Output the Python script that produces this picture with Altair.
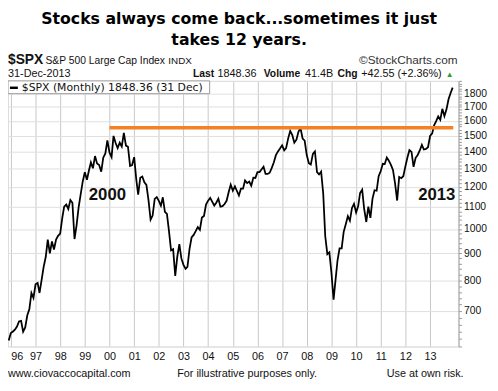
import altair as alt
import pandas as pd

# Monthly closes of $SPX, Dec 1995 .. Dec 2013 (plotted at month start)
spx_1995 = [615.93]
spx_1996 = [636.02, 640.43, 645.50, 654.17, 669.12, 670.63, 639.95, 651.99, 687.31, 705.27, 757.02, 740.74]
spx_1997 = [786.16, 790.82, 757.12, 801.34, 848.28, 885.14, 954.31, 899.47, 947.28, 914.62, 955.40, 970.43]
spx_1998 = [980.28, 1049.34, 1101.75, 1111.75, 1090.82, 1133.84, 1120.67, 957.28, 1017.01, 1098.67, 1163.63, 1229.23]
spx_1999 = [1279.64, 1238.33, 1286.37, 1335.18, 1301.84, 1372.71, 1328.72, 1320.41, 1282.71, 1362.93, 1388.91, 1469.25]
spx_2000 = [1394.46, 1366.42, 1498.58, 1452.43, 1420.60, 1454.60, 1430.83, 1517.68, 1436.51, 1429.40, 1314.95, 1320.28]
spx_2001 = [1366.01, 1239.94, 1160.33, 1249.46, 1255.82, 1224.38, 1211.23, 1133.58, 1040.94, 1059.78, 1139.45, 1148.08]
spx_2002 = [1130.20, 1106.73, 1147.39, 1076.92, 1067.14, 989.82, 911.62, 916.07, 815.28, 885.76, 936.31, 879.82]
spx_2003 = [855.70, 841.15, 848.18, 916.92, 963.59, 974.50, 990.31, 1008.01, 995.97, 1050.71, 1058.20, 1111.92]
spx_2004 = [1131.13, 1144.94, 1126.21, 1107.30, 1120.68, 1140.84, 1101.72, 1104.24, 1114.58, 1130.20, 1173.82, 1211.92]
spx_2005 = [1181.27, 1203.60, 1180.59, 1156.85, 1191.50, 1191.33, 1234.18, 1220.33, 1228.81, 1207.01, 1249.48, 1248.29]
spx_2006 = [1280.08, 1280.66, 1294.87, 1310.61, 1270.09, 1270.20, 1276.66, 1303.82, 1335.85, 1377.94, 1400.63, 1418.30]
spx_2007 = [1438.24, 1406.82, 1420.86, 1482.37, 1530.62, 1503.35, 1455.27, 1473.99, 1526.75, 1549.38, 1481.14, 1468.36]
spx_2008 = [1378.55, 1330.63, 1322.70, 1385.59, 1400.38, 1280.00, 1267.38, 1282.83, 1166.36, 968.75, 896.24, 903.25]
spx_2009 = [825.88, 735.09, 797.87, 872.81, 919.14, 919.32, 987.48, 1020.62, 1057.08, 1036.19, 1095.63, 1115.10]
spx_2010 = [1073.87, 1104.49, 1169.43, 1186.69, 1089.41, 1030.71, 1101.60, 1049.33, 1141.20, 1183.26, 1180.55, 1257.64]
spx_2011 = [1286.12, 1327.22, 1325.83, 1363.61, 1345.20, 1320.64, 1292.28, 1218.89, 1131.42, 1253.30, 1246.96, 1257.60]
spx_2012 = [1312.41, 1365.68, 1408.47, 1397.91, 1310.33, 1362.16, 1379.32, 1406.58, 1440.67, 1412.16, 1416.18, 1426.19]
spx_2013 = [1498.11, 1514.68, 1569.19, 1597.57, 1630.74, 1606.28, 1685.73, 1632.97, 1681.55, 1756.54, 1805.81, 1848.36]

year_labels = ["96", "97", "98", "99", "00", "01", "02", "03", "04", "05", "06", "07", "08", "09", "10", "11", "12", "13"]
y_tick_values = [600, 620, 640, 660, 680, 700, 720, 740, 760, 780, 800, 820, 840, 860, 880, 900, 920, 940, 960, 980,
                 1000, 1020, 1040, 1060, 1080, 1100, 1120, 1140, 1160, 1180, 1200, 1220, 1240, 1260, 1280, 1300,
                 1320, 1340, 1360, 1380, 1400, 1420, 1440, 1460, 1480, 1500, 1520, 1540, 1560, 1580, 1600, 1620,
                 1640, 1660, 1680, 1700, 1720, 1740, 1760, 1780, 1800, 1820, 1840, 1860, 1880, 1900]

resistance_level = 1553
resistance_start = "2000-01-01"
resistance_end = "2013-12-10"

annot_labels = ["2000", "2013"]
annot_dates = ["1999-12-01", "2013-04-10"]
annot_values = [1160, 1160]

all_vals = (spx_1995 + spx_1996 + spx_1997 + spx_1998 + spx_1999 + spx_2000 + spx_2001 + spx_2002 +
            spx_2003 + spx_2004 + spx_2005 + spx_2006 + spx_2007 + spx_2008 + spx_2009 + spx_2010 +
            spx_2011 + spx_2012 + spx_2013)
dates = pd.date_range("1995-12-01", periods=len(all_vals), freq="MS").strftime("%Y-%m-%d")
df = pd.DataFrame({"date": dates, "close": all_vals})

W, H = 458, 270
ARIAL = "Liberation Sans"

x_scale = alt.Scale(type="utc", domain=[alt.DateTime(year=1995, month=11, date=20, utc=True),
                                        alt.DateTime(year=2014, month=2, date=26, utc=True)])
y_scale = alt.Scale(type="log", domain=[600, 1903], nice=False)

x_axis = alt.Axis(values=[alt.DateTime(year=1996 + i, month=1, date=1, utc=True) for i in range(len(year_labels))],
                  format="%y", title=None, grid=True, gridColor="#c8c8c8", tickSize=0, domain=False,
                  labelPadding=4, labelFont=ARIAL, labelFontSize=11, labelColor="#111",
                  labelFlush=3, labelOverlap=False)
y_axis = alt.Axis(orient="right", values=y_tick_values, title=None,
                  labelExpr="(datum.value % 100 === 0 && datum.value >= 700 && datum.value <= 1800) ? format(datum.value, 'd') : ''",
                  labelOverlap=False, labelBound=False, labelFont=ARIAL, labelFontSize=10.5, labelColor="#111",
                  grid=True, gridColor="#dedede",
                  gridOpacity={"condition": {"test": "datum.value % 100 === 0", "value": 1}, "value": 0},
                  tickSize=3, tickColor="#999", labelPadding=2, domainColor="#a0a0a0")

line = alt.Chart(df).mark_line(color="black", strokeWidth=1.8, clip=True).encode(
    x=alt.X("date:T", scale=x_scale, axis=x_axis, title=None),
    y=alt.Y("close:Q", scale=y_scale, axis=y_axis, title=None),
)

res_df = pd.DataFrame({"start": [resistance_start], "end": [resistance_end], "level": [resistance_level]})
rule = alt.Chart(res_df).mark_rule(color="#f58025", strokeWidth=3.5).encode(
    x=alt.X("start:T", scale=x_scale, axis=x_axis, title=None), x2="end:T",
    y=alt.Y("level:Q", scale=y_scale, axis=y_axis, title=None)
)

ann_df = pd.DataFrame({"label": annot_labels, "date": annot_dates, "value": annot_values})
ann = alt.Chart(ann_df).mark_text(font=ARIAL, fontWeight="bold", fontSize=17, color="#111",
                                  align="center", baseline="middle").encode(
    x=alt.X("date:T", scale=x_scale, axis=x_axis, title=None),
    y=alt.Y("value:Q", scale=y_scale, axis=y_axis, title=None), text="label:N"
)

one = pd.DataFrame({"k": [0]})


def txt(s, x, y, size=11, weight="normal", font=ARIAL, align="left", color="#111"):
    return alt.Chart(one).mark_text(text=s, font=font, fontSize=size, fontWeight=weight, align=align,
                                    baseline="alphabetic", color=color).encode(
        x=alt.value(x), y=alt.value(y))


legend_box = alt.Chart(one).mark_rect(fill="white", stroke="#999", strokeWidth=1).encode(
    x=alt.value(0), x2=alt.value(205), y=alt.value(0), y2=alt.value(13))
legend_dash = alt.Chart(one).mark_rule(color="black", strokeWidth=2.5).encode(
    x=alt.value(2), x2=alt.value(10), y=alt.value(7))
legend_text = txt("$SPX (Monthly) 1848.36 (31 Dec)", 14, 10.5, size=11, font="DejaVu Sans")

texts = [
    txt("Stocks always come back...sometimes it just", 235, -58.3, size=16, weight="bold",
        font="DejaVu Sans", align="center", color="black"),
    txt("takes 12 years.", 235, -36.3, size=16, weight="bold", font="DejaVu Sans", align="center", color="black"),
    txt("$SPX", 0, -17, size=14, weight="bold"),
    txt("S&P 500 Large Cap Index", 38, -17, size=10.5),
    txt("INDX", 163, -17, size=10),
    txt("\u00a9StockCharts.com", 457, -17, size=12, align="right", color="#333"),
    txt("31-Dec-2013", 0, -3.5, size=11),
    txt("Last", 188, -3.5, size=10.5, weight="bold"),
    txt("1848.36", 213, -3.5, size=11),
    txt("Volume", 260, -3.5, size=10.5, weight="bold"),
    txt("41.4B", 302, -3.5, size=11),
    txt("Chg", 335, -3.5, size=10.5, weight="bold"),
    txt("+42.55 (+2.36%)", 359, -3.5, size=11),
    txt("\u25b2", 445, -4, size=8, color="#2e9b2e"),
    txt("www.ciovaccocapital.com", 0, 301, size=11),
    txt("For illustrative purposes only.", 172, 301, size=11),
    txt("Use at own risk.", 385, 301, size=11),
]

chart = alt.layer(line, rule, ann, legend_box, legend_dash, legend_text, *texts).properties(
    width=W, height=H,
    padding={"left": 0, "top": 71, "right": 32, "bottom": 34},
    autosize=alt.AutoSizeParams(type="none"),
).configure_view(stroke="#a0a0a0", strokeWidth=1).configure(background="white")

chart.save("out.html", embed_options={"renderer": "svg", "actions": False})
